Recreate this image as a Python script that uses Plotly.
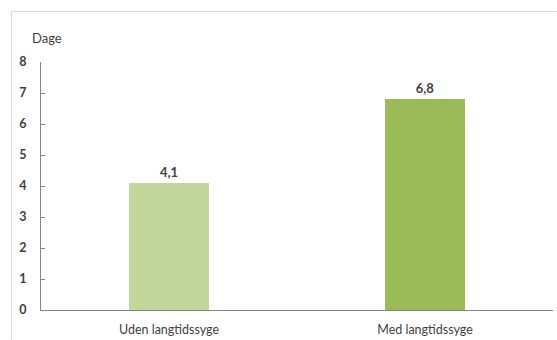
import plotly.graph_objects as go

# Sygefraværsdage pr. medarbejder
categories = ["Uden langtidssyge", "Med langtidssyge"]
values = [4.1, 6.8]
bar_colors = ["#C3D69B", "#9BBB59"]
y_ticks = [0, 1, 2, 3, 4, 5, 6, 7, 8]

W, H = 557, 340
L, R, T, B = 41, 4, 62, 30

FONT = "Lato, 'Open Sans', sans-serif"
TXT = "#3F3F3F"

fig = go.Figure(
    go.Bar(
        x=categories,
        y=values,
        marker=dict(color=bar_colors, line=dict(width=0)),
        width=0.31,
        texttemplate="<b>%{y:.1f}</b>",
        textposition="outside",
        textfont=dict(family=FONT, size=13, color=TXT),
        cliponaxis=False,
        hoverinfo="skip",
    )
)

plot_w = W - L - R
plot_h = H - T - B

def px_x(px):
    return (px - L) / plot_w

def px_y(py):
    return (H - B - py) / plot_h

# Chart-area frame: top and left edges only
frame = dict(color="#D9D9D9", width=1)
fig.add_shape(type="line", xref="paper", yref="paper", layer="below",
              x0=px_x(11.5), x1=px_x(W - 0.5), y0=px_y(11.5), y1=px_y(11.5), line=frame)
fig.add_shape(type="line", xref="paper", yref="paper", layer="below",
              x0=px_x(11.5), x1=px_x(11.5), y0=px_y(11.5), y1=px_y(H - 0.5), line=frame)

fig.add_annotation(
    text="Dage", xref="paper", yref="paper",
    x=px_x(47), y=px_y(38), xanchor="center", yanchor="middle",
    showarrow=False, font=dict(family=FONT, size=13, color=TXT),
)

fig.update_layout(
    width=W, height=H,
    margin=dict(l=L, r=R, t=T, b=B),
    paper_bgcolor="white", plot_bgcolor="white",
    separators=", ",
    showlegend=False,
    bargap=0,
)
fig.update_xaxes(
    range=[-0.5, 1.5],
    showline=True, linecolor="#868686", linewidth=1,
    ticks="", showgrid=False, zeroline=False,
    tickfont=dict(family=FONT, size=12.5, color=TXT),
    ticklabelstandoff=8,
)
fig.update_yaxes(
    range=[0, 8],
    tickvals=y_ticks,
    ticktext=[f"<b>{v}</b>" for v in y_ticks],
    showline=True, linecolor="#868686", linewidth=1,
    ticks="inside", ticklen=4, tickcolor="#868686",
    showgrid=False, zeroline=False,
    tickfont=dict(family=FONT, size=12.5, color=TXT),
    ticklabelstandoff=11,
)

# keep the page itself from scrolling
page_css = ("document.documentElement.style.overflow='hidden';"
            "document.body.style.margin='0';"
            "document.body.style.overflow='hidden';")

fig.write_html("out.html", config={"displayModeBar": False}, post_script=page_css)
